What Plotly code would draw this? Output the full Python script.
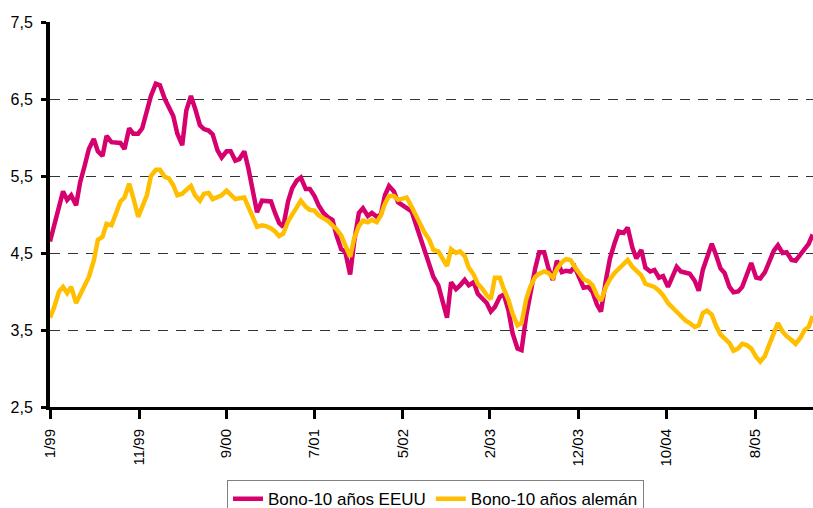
# plot.py

import pandas as pd

import plotly.graph_objects as go

# -----------------------------------------------------
# DATA (semi-monthly readings, 1/1999 - 3/2006)
# -----------------------------------------------------

dates = pd.date_range("1999-01-01", "2006-03-15", freq="SMS")

us_yield = [
    4.65, 4.85, 5.10, 5.30, 5.19, 5.25, 5.12, 5.42, 5.64, 5.85, 5.98, 5.82,
    5.76, 6.02, 5.94, 5.93, 5.93, 5.85, 6.12, 6.05, 6.05, 6.12, 6.33, 6.54,
    6.70, 6.68, 6.50, 6.40, 6.28, 6.05, 5.90, 6.35, 6.54, 6.38, 6.16, 6.11,
    6.09, 6.04, 5.83, 5.74, 5.82, 5.82, 5.70, 5.72, 5.82, 5.60, 5.32, 5.03,
    5.18, 5.18, 5.17, 5.02, 4.89, 4.84, 5.17, 5.34, 5.44, 5.48, 5.33, 5.33,
    5.24, 5.12, 5.02, 4.97, 4.93, 4.73, 4.55, 4.52, 4.22, 4.65, 5.02, 5.08,
    4.98, 5.02, 4.97, 5.00, 5.25, 5.37, 5.30, 5.16, 5.12, 5.10, 5.04, 4.88,
    4.70, 4.50, 4.31, 4.19, 4.08, 3.87, 3.66, 4.12, 4.03, 4.08, 4.15, 4.08,
    4.12, 3.97, 3.90, 3.85, 3.74, 3.80, 3.93, 3.96, 3.75, 3.46, 3.26, 3.24,
    3.68, 3.97, 4.30, 4.51, 4.51, 4.31, 4.15, 4.40, 4.25, 4.27, 4.26, 4.32,
    4.18, 4.05, 4.06, 3.99, 3.83, 3.74, 4.15, 4.43, 4.63, 4.78, 4.76, 4.83,
    4.57, 4.43, 4.54, 4.31, 4.26, 4.28, 4.18, 4.20, 4.06, 4.20, 4.32, 4.26,
    4.25, 4.23, 4.14, 4.01, 4.28, 4.44, 4.62, 4.48, 4.30, 4.24, 4.06, 3.99,
    4.00, 4.06, 4.23, 4.37, 4.18, 4.17, 4.25, 4.38, 4.53, 4.60, 4.50, 4.51,
    4.41, 4.40, 4.49, 4.56, 4.62, 4.74,
]

de_yield = [
    3.66, 3.79, 4.00, 4.06, 3.98, 4.06, 3.85, 3.96, 4.07, 4.19, 4.40, 4.67,
    4.71, 4.88, 4.86, 5.01, 5.17, 5.22, 5.40, 5.22, 4.97, 5.10, 5.25, 5.50,
    5.58, 5.58, 5.49, 5.47, 5.38, 5.25, 5.27, 5.32, 5.37, 5.25, 5.18, 5.27,
    5.28, 5.20, 5.23, 5.25, 5.31, 5.25, 5.20, 5.21, 5.22, 5.10, 4.95, 4.84,
    4.86, 4.85, 4.82, 4.78, 4.72, 4.75, 4.91, 5.00, 5.09, 5.18, 5.10, 5.06,
    5.05, 4.99, 4.95, 4.92, 4.86, 4.81, 4.73, 4.60, 4.45, 4.69, 4.85, 4.92,
    4.90, 4.93, 4.90, 4.99, 5.14, 5.24, 5.24, 5.19, 5.20, 5.22, 5.10, 4.99,
    4.88, 4.77, 4.67, 4.54, 4.52, 4.44, 4.33, 4.55, 4.50, 4.52, 4.46, 4.31,
    4.22, 4.10, 4.03, 3.95, 3.90, 4.18, 4.18, 4.03, 3.89, 3.71, 3.56, 3.59,
    3.90, 4.06, 4.19, 4.23, 4.26, 4.24, 4.18, 4.29, 4.38, 4.42, 4.41, 4.32,
    4.24, 4.16, 4.13, 4.08, 3.95, 3.88, 4.06, 4.16, 4.24, 4.29, 4.37, 4.41,
    4.32, 4.27, 4.21, 4.10, 4.08, 4.06, 4.01, 3.95, 3.85, 3.80, 3.75, 3.68,
    3.62, 3.59, 3.54, 3.56, 3.72, 3.75, 3.70, 3.56, 3.44, 3.39, 3.33, 3.23,
    3.26, 3.32, 3.30, 3.26, 3.15, 3.09, 3.16, 3.30, 3.45, 3.59, 3.48, 3.42,
    3.37, 3.32, 3.40, 3.50, 3.54, 3.68,
]

tick_dates = [
    "1999-01-01", "1999-11-04", "2000-09-01", "2001-07-01", "2002-05-01",
    "2003-02-26", "2003-12-28", "2004-10-27", "2005-08-28",
]

tick_labels = [
    "1/99", "11/99", "9/00", "7/01", "5/02",
    "2/03", "12/03", "10/04", "8/05",
]

series_names = ["Bono-10 años EEUU", "Bono-10 años alemán"]

# -----------------------------------------------------
# FIGURE
# -----------------------------------------------------

FONT = "Arial, Liberation Sans, sans-serif"

fig = go.Figure()

fig.add_trace(
    go.Scatter(
        x=dates,
        y=us_yield,
        mode="lines",
        name=series_names[0],
        line=dict(color="#D6006E", width=4.5),
    )
)

fig.add_trace(
    go.Scatter(
        x=dates,
        y=de_yield,
        mode="lines",
        name=series_names[1],
        line=dict(color="#FFBF00", width=4.5),
    )
)

fig.update_layout(
    width=813,
    height=508,
    margin=dict(l=50, r=0, t=22, b=101, autoexpand=False),
    paper_bgcolor="white",
    plot_bgcolor="white",
    separators=", ",
    font=dict(family=FONT, size=15, color="black"),
    showlegend=True,
    legend=dict(
        orientation="h",
        x=0.232,
        xanchor="left",
        y=-0.19,
        yanchor="top",
        bgcolor="white",
        bordercolor="#808080",
        borderwidth=1,
        font=dict(family=FONT, size=17, color="black"),
    ),
)

fig.update_xaxes(
    type="date",
    range=["1999-01-01", "2006-03-16"],
    tickmode="array",
    tickvals=tick_dates,
    ticktext=tick_labels,
    tickangle=-90,
    ticks="outside",
    ticklen=9,
    tickwidth=3,
    tickcolor="black",
    ticklabelstandoff=4,
    showline=True,
    linecolor="black",
    linewidth=3,
    showgrid=False,
    zeroline=False,
    tickfont=dict(size=15),
)

fig.update_yaxes(
    range=[2.5, 7.5],
    tick0=2.5,
    dtick=1,
    tickformat=".1f",
    ticks="outside",
    ticklen=5,
    tickwidth=3,
    tickcolor="black",
    ticklabelstandoff=5,
    showline=True,
    linecolor="black",
    linewidth=4,
    showgrid=True,
    gridcolor="#333333",
    gridwidth=1,
    griddash="10px,8px",
    zeroline=False,
    tickfont=dict(size=16),
)

# no page margin and no scrollbars, so the figure fills the window
fig.write_html(
    "out.html",
    config={"displayModeBar": False},
    post_script=(
        "document.body.style.margin='0';"
        "document.body.style.overflow='hidden';"
        "document.documentElement.style.overflow='hidden';"
    ),
)
